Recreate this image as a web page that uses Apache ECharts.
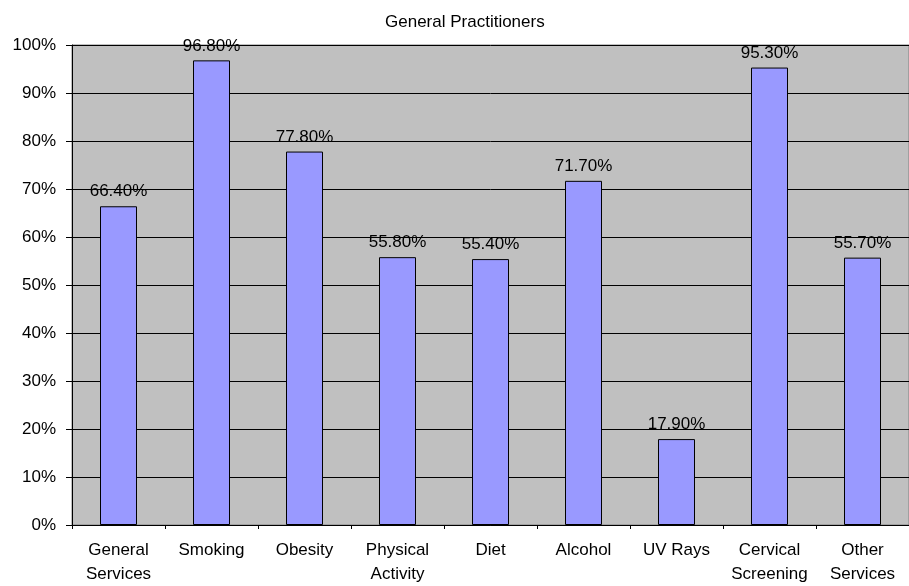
<!DOCTYPE html>
<html><head><meta charset="utf-8">
<script src="https://cdn.jsdelivr.net/npm/echarts@6/dist/echarts.min.js"></script>
<style>html,body{margin:0;padding:0;background:#fff}#c{width:909px;height:586px}</style>
</head><body><div id="c"></div>
<script>
var categories = ['General\nServices','Smoking','Obesity','Physical\nActivity','Diet','Alcohol','UV Rays','Cervical\nScreening','Other\nServices'];
var values = [66.4, 96.8, 77.8, 55.8, 55.4, 71.7, 17.9, 95.3, 55.7];
var yTicks = [0,10,20,30,40,50,60,70,80,90,100];
var chart = echarts.init(document.getElementById('c'), null, {renderer:'canvas'});
var F = 'Liberation Sans, Arial, sans-serif';
chart.setOption({
  animation:false,
  title:{text:'General Practitioners', left:380, top:9,
    textStyle:{fontFamily:F, fontSize:17, fontWeight:'normal', color:'#000'}},
  grid:{left:72, width:846, top:45, height:482.5, show:true, backgroundColor:'#C0C0C0', borderColor:'#808080', borderWidth:1},
  xAxis:{type:'category', data:categories,
    axisLine:{lineStyle:{color:'#000'}},
    axisTick:{show:true, length:4, lineStyle:{color:'#000'}},
    axisLabel:{interval:0, fontFamily:F, fontSize:17, color:'#000', margin:13, lineHeight:24}},
  yAxis:{type:'value', min:0, max:100, interval:10,
    axisLine:{show:true, lineStyle:{color:'#000'}},
    axisTick:{show:true, length:6, lineStyle:{color:'#000'}},
    splitLine:{lineStyle:{color:'#000', width:1}},
    axisLabel:{fontFamily:F, fontSize:17, color:'#000', margin:16, formatter:function(v){return v+'%';}}},
  series:[{type:'bar', data:values, barWidth:37,
    itemStyle:{color:'#9999FF', borderColor:'#000', borderWidth:1},
    label:{show:true, position:'top', distance:6, fontFamily:F, fontSize:17, color:'#000',
      formatter:function(p){return p.value.toFixed(2)+'%';}}}]
});
</script></body></html>
